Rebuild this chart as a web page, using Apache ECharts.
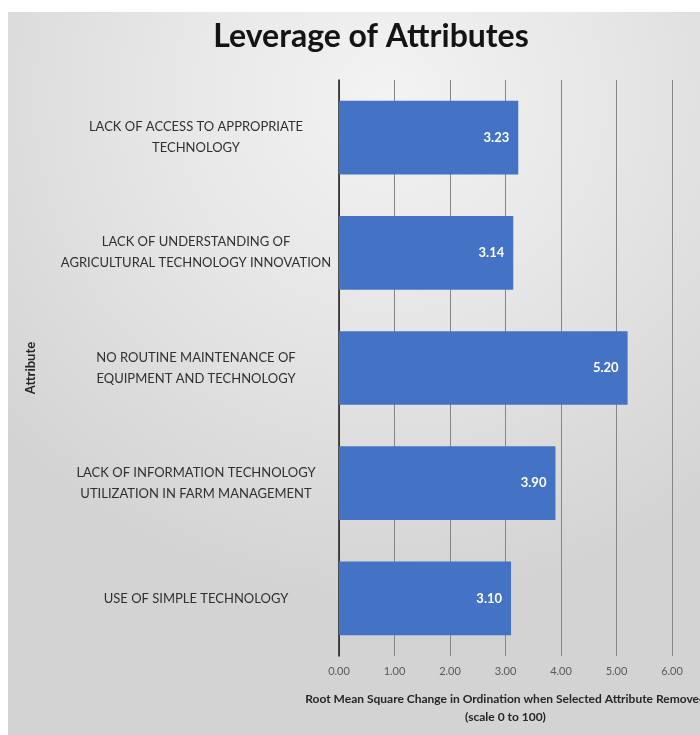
<!DOCTYPE html>
<html>
<head>
<meta charset="utf-8">
<script src="https://cdn.jsdelivr.net/npm/echarts@6/dist/echarts.min.js"></script>
<style>
  html, body { margin: 0; padding: 0; background: #ffffff; }
  #chart {
    position: absolute; left: 8px; top: 12px; width: 692px; height: 723px;
    background: radial-gradient(ellipse 75% 70% at 55% 12%, #f3f3f3 0%, #e6e6e6 45%, #d3d3d3 100%);
  }
</style>
</head>
<body>
<div id="chart"></div>
<script>
// Attributes, listed top to bottom
const attributes = [
  'LACK OF ACCESS TO APPROPRIATE\nTECHNOLOGY',
  'LACK OF UNDERSTANDING OF\nAGRICULTURAL TECHNOLOGY INNOVATION',
  'NO ROUTINE MAINTENANCE OF\nEQUIPMENT AND TECHNOLOGY',
  'LACK OF INFORMATION TECHNOLOGY\nUTILIZATION IN FARM MANAGEMENT',
  'USE OF SIMPLE TECHNOLOGY'
];
// RMS change in ordination when each attribute is removed
const rmsChange = [3.23, 3.14, 5.20, 3.90, 3.10];
// Value axis range and step
const axisMin = 0;
const axisMax = 6;
const axisStep = 1;

const chart = echarts.init(document.getElementById('chart'), null, { renderer: 'canvas' });

chart.setOption({
  backgroundColor: 'transparent',
  animation: false,
  title: {
    text: 'Leverage of Attributes',
    left: 363,
    top: 9,
    textAlign: 'center',
    padding: 0,
    textStyle: {
      fontFamily: 'Lato',
      fontWeight: 'bold',
      fontSize: 32,
      color: '#141414'
    }
  },
  grid: {
    left: 331, top: 68, width: 333, height: 576,
    containLabel: false,
    outerBoundsMode: 'none'
  },
  xAxis: {
    type: 'value',
    min: axisMin,
    max: axisMax,
    interval: axisStep,
    axisLine: { show: false },
    axisTick: { show: false },
    splitLine: { show: true, lineStyle: { color: '#858585', width: 1 } },
    axisLabel: {
      margin: 10,
      fontFamily: 'Lato',
      fontSize: 11,
      color: '#595959',
      formatter: v => v.toFixed(2)
    },
    name: 'Root Mean Square Change in Ordination when Selected Attribute Removed\n(scale 0 to 100)',
    nameLocation: 'middle',
    nameGap: 34,
    nameTextStyle: {
      fontFamily: 'Lato',
      fontWeight: 'bold',
      fontSize: 12,
      lineHeight: 18,
      color: '#262626'
    }
  },
  yAxis: {
    type: 'category',
    data: attributes,
    inverse: true,
    axisLine: { show: true, lineStyle: { color: '#1c1c1c', width: 1.5 } },
    axisTick: { show: false },
    axisLabel: {
      margin: 143,
      align: 'center',
      fontFamily: 'Lato',
      fontSize: 13,
      lineHeight: 21,
      color: '#303030'
    },
    name: 'Attribute',
    nameLocation: 'middle',
    nameGap: 302,
    nameRotate: 90,
    nameTextStyle: {
      fontFamily: 'Lato',
      fontWeight: 'bold',
      fontSize: 13,
      color: '#262626'
    }
  },
  series: [{
    type: 'bar',
    data: rmsChange,
    barCategoryGap: '36%',
    itemStyle: { color: '#4472C4' },
    label: {
      show: true,
      position: 'insideRight',
      distance: 9,
      fontFamily: 'Lato',
      fontWeight: 'bold',
      fontSize: 13,
      color: '#ffffff',
      formatter: p => p.value.toFixed(2)
    }
  }]
});
</script>
</body>
</html>
